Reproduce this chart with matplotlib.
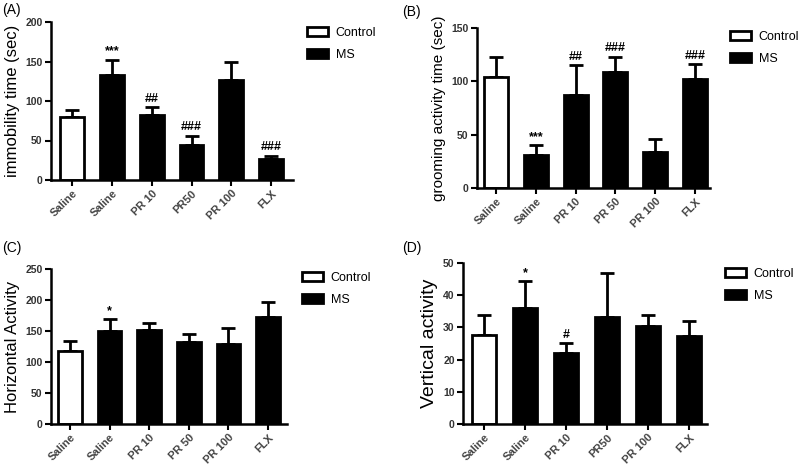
import matplotlib
matplotlib.use('Agg')
import matplotlib.pyplot as plt
from matplotlib.patches import Patch

plt.rcParams['font.family'] = ['Liberation Sans', 'DejaVu Sans']

# data
groups_a = ['Saline', 'Saline', 'PR 10', 'PR50', 'PR 100', 'FLX']
groups_b = ['Saline', 'Saline', 'PR 10', 'PR 50', 'PR 100', 'FLX']
immobility = [80, 133, 82, 44, 127, 26]
immobility_err = [8, 19, 10, 12, 23, 5]
immobility_sig = ['', '***', '##', '###', '', '###']
grooming = [104, 31, 87, 109, 34, 102]
grooming_err = [19, 9, 28, 14, 12, 14]
grooming_sig = ['', '***', '##', '###', '', '###']
horizontal = [117, 150, 152, 133, 129, 172]
horizontal_err = [17, 19, 11, 12, 26, 25]
horizontal_sig = ['', '*', '', '', '', '']
vertical = [27.7, 35.9, 22.2, 33.3, 30.5, 27.4]
vertical_err = [6.0, 8.4, 2.9, 13.6, 3.5, 4.7]
vertical_sig = ['', '*', '#', '', '', '']

W, H = 800, 468
fig = plt.figure(figsize=(8, 4.68), dpi=100)


def px_axes(x0, y0, x1, y1):
    return fig.add_axes([x0 / W, 1 - y1 / H, (x1 - x0) / W, (y1 - y0) / H])


def panel(ax, vals, errs, sig, labels, ylabel, ysize, ymax, ystep, xlim, letter, letter_xy, leg_xy):
    x = range(len(vals))
    colors = ['white'] + ['black'] * (len(vals) - 1)
    ax.bar(x, vals, width=0.6, color=colors, edgecolor='black', linewidth=2, zorder=2)
    ax.errorbar(x, vals, yerr=[[0] * len(vals), errs], fmt='none', ecolor='black',
                elinewidth=2, capsize=5, capthick=2, zorder=1)
    for i, s in enumerate(sig):
        if s:
            ax.text(i, vals[i] + errs[i] + ymax * 0.015, s, ha='center', va='bottom',
                    fontsize=9, fontweight='bold')
    ax.set_ylim(0, ymax)
    ax.set_xlim(*xlim)
    ax.set_yticks(range(0, ymax + 1, ystep))
    ax.set_xticks(list(x))
    ax.set_xticklabels(labels, rotation=45, ha='right', rotation_mode='anchor',
                       fontsize=8, fontweight='bold', color='#444444')
    for t in ax.get_yticklabels():
        t.set_fontsize(7.5)
        t.set_fontweight('bold')
        t.set_color('#333333')
    ax.spines['top'].set_visible(False)
    ax.spines['right'].set_visible(False)
    ax.spines['left'].set_linewidth(1.8)
    ax.spines['bottom'].set_linewidth(1.8)
    ax.tick_params(width=1.5, length=4, direction='out', pad=2)
    ax.set_ylabel(ylabel, fontsize=ysize, labelpad=4)
    fig.text(letter_xy[0] / W, 1 - letter_xy[1] / H, letter, fontsize=10, va='center')
    handles = [Patch(facecolor='white', edgecolor='black', linewidth=2, label='Control'),
               Patch(facecolor='black', edgecolor='black', linewidth=2, label='MS')]
    fig.legend(handles=handles, loc='upper left',
               bbox_to_anchor=(leg_xy[0] / W, 1 - leg_xy[1] / H), frameon=False,
               fontsize=9, handlelength=1.7, handleheight=0.75, labelspacing=0.8,
               handletextpad=0.6, borderaxespad=0, borderpad=0)


ax_a = px_axes(51, 22, 293, 180)
panel(ax_a, immobility, immobility_err, immobility_sig, groups_a,
      'immobility time (sec)', 12, 200, 50, (-0.53, 5.55), '(A)', (2, 10), (307, 27))

ax_b = px_axes(477, 28, 710, 188)
panel(ax_b, grooming, grooming_err, grooming_sig, groups_b,
      'grooming activity time (sec)', 11, 150, 50, (-0.48, 5.38), '(B)', (402, 12), (730, 31))

ax_c = px_axes(51, 269, 287, 424)
panel(ax_c, horizontal, horizontal_err, horizontal_sig, groups_b,
      'Horizontal Activity', 12, 250, 50, (-0.48, 5.48), '(C)', (2, 248), (302, 272))

ax_d = px_axes(463, 263, 707, 424)
panel(ax_d, vertical, vertical_err, vertical_sig, groups_a,
      'Vertical activity', 14, 50, 10, (-0.51, 5.44), '(D)', (402, 248), (725, 268))

fig.savefig('out.png', dpi=100)
